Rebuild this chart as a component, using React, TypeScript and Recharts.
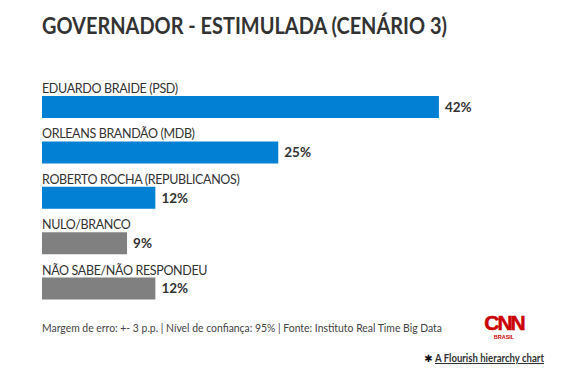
import { BarChart, Bar, XAxis, YAxis, Cell, LabelList } from "recharts";

const candidates = [
  "EDUARDO BRAIDE (PSD)",
  "ORLEANS BRANDÃO (MDB)",
  "ROBERTO ROCHA (REPUBLICANOS)",
  "NULO/BRANCO",
  "NÃO SABE/NÃO RESPONDEU",
];
const percents = [42, 25, 12, 9, 12];
const barColors = ["#0180d4", "#0180d4", "#0180d4", "#808080", "#808080"];

const FONT = "Lato, 'Open Sans', sans-serif";
const TEXT = "#333333";

const data = candidates.map((name, i) => ({
  name,
  value: percents[i],
  color: barColors[i],
}));

function NameLabel(props: any) {
  const { x, y, value } = props;
  return (
    <text
      x={x}
      y={y - 3}
      fontSize={12.5}
      letterSpacing={-0.35}
      fill={TEXT}
      fontFamily={FONT}
    >
      {value}
    </text>
  );
}

function ValueLabel(props: any) {
  const { x, y, width, height, value } = props;
  return (
    <text
      x={x + width + 6}
      y={y + height / 2}
      dy="0.35em"
      fontSize={13.5}
      fontWeight={700}
      fill={TEXT}
      fontFamily={FONT}
    >
      {value}%
    </text>
  );
}

export default function App() {
  return (
    <div
      style={{
        position: "absolute",
        top: 0,
        left: 0,
        width: 569,
        height: 379,
        background: "#fff",
        fontFamily: FONT,
      }}
    >
      <BarChart
        width={569}
        height={379}
        data={data}
        layout="vertical"
        margin={{ top: 84, right: 54.5, bottom: 68, left: 42 }}
        style={{ position: "absolute", top: 0, left: 0 }}
      >
        <XAxis type="number" domain={[0, 50]} hide />
        <YAxis type="category" dataKey="name" hide />
        <Bar dataKey="value" barSize={22} isAnimationActive={false}>
          {data.map((d, i) => (
            <Cell key={i} fill={d.color} />
          ))}
          <LabelList dataKey="name" content={NameLabel} />
          <LabelList dataKey="value" content={ValueLabel} />
        </Bar>
      </BarChart>
      <svg
        width={569}
        height={379}
        style={{ position: "absolute", top: 0, left: 0, pointerEvents: "none" }}
      >
        <text
          x={42}
          y={34}
          fontSize={23.5}
          fontWeight={700}
          fill={TEXT}
          fontFamily={FONT}
          textLength={405}
          lengthAdjust="spacingAndGlyphs"
        >
          GOVERNADOR - ESTIMULADA (CENÁRIO 3)
        </text>
        <text
          x={42}
          y={332}
          fontSize={11}
          fill="#444"
          fontFamily={FONT}
          textLength={400}
          lengthAdjust="spacingAndGlyphs"
        >
          Margem de erro: +- 3 p.p. | Nível de confiança: 95% | Fonte: Instituto Real Time Big Data
        </text>
        <text
          x={504}
          y={330}
          textAnchor="middle"
          fontSize={21}
          fontWeight={700}
          letterSpacing={-2}
          fill="#cc0000"
          stroke="#cc0000"
          strokeWidth={0.5}
          fontFamily="'Liberation Sans', Arial, sans-serif"
        >
          CNN
        </text>
        <text
          x={504}
          y={339}
          textAnchor="middle"
          fontSize={5.5}
          fontWeight={700}
          fill="#cc0000"
          fontFamily="'Liberation Sans', Arial, sans-serif"
        >
          BRASIL
        </text>
        <text
          x={428.5}
          y={362}
          textAnchor="middle"
          fontSize={10}
          fontWeight={700}
          fill="#111"
          fontFamily="'DejaVu Sans', sans-serif"
        >
          ✱
        </text>
        <text
          x={435}
          y={362}
          fontSize={10.5}
          fontWeight={700}
          fill={TEXT}
          fontFamily={FONT}
          textLength={109}
          lengthAdjust="spacingAndGlyphs"
          style={{ textDecoration: "underline" }}
        >
          A Flourish hierarchy chart
        </text>
      </svg>
    </div>
  );
}
